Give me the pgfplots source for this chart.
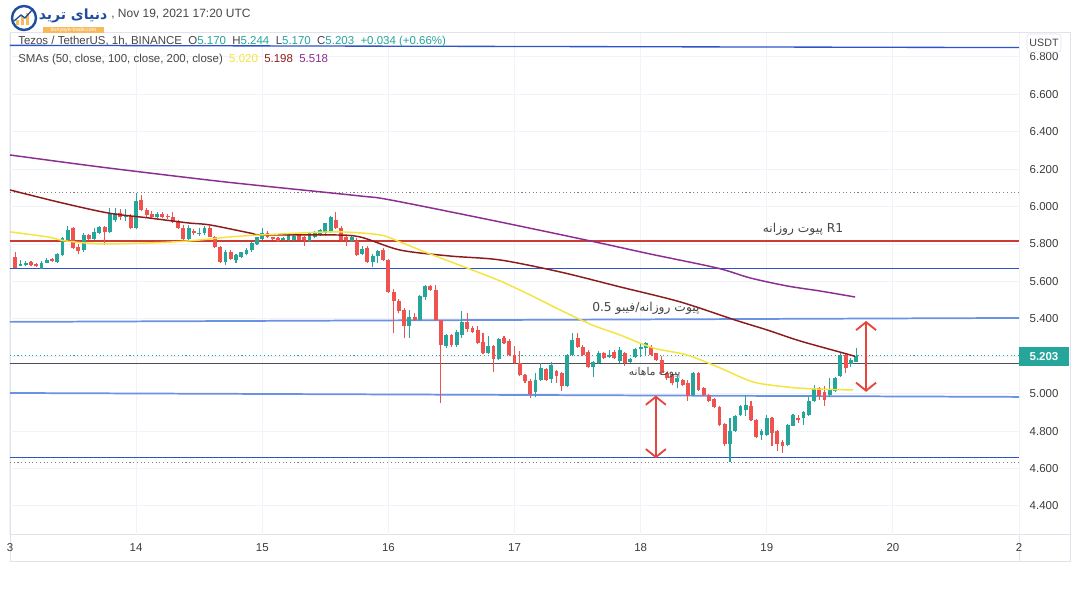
\documentclass[border=0pt]{standalone}
\usepackage{pgfplots}
\usepackage{pgfplotstable}
\pgfplotsset{compat=1.18}
\usepackage{fontspec}
\setmainfont{Liberation Sans}
\newfontfamily\arabicfont[Script=Arabic]{DejaVu Sans}
\TeXXeTstate=1
\usetikzlibrary{arrows.meta}

\definecolor{upc}{RGB}{38,166,154}
\definecolor{downc}{RGB}{239,83,80}
\definecolor{gridc}{RGB}{240,243,250}
\definecolor{bordc}{RGB}{224,227,235}
\definecolor{tickc}{RGB}{60,60,60}
\definecolor{hdrc}{RGB}{70,70,70}
\definecolor{smaY}{RGB}{245,228,60}
\definecolor{smaR}{RGB}{140,28,28}
\definecolor{smaP}{RGB}{140,45,145}
\definecolor{blueA}{RGB}{45,85,200}
\definecolor{blueB}{RGB}{105,145,228}
\definecolor{redL}{RGB}{205,60,50}
\definecolor{darkL}{RGB}{80,80,80}
\definecolor{arrowc}{RGB}{230,70,60}
\definecolor{logoblue}{RGB}{30,78,156}
\definecolor{logoorange}{RGB}{248,185,90}

% t open high low close  (rising candles)
\pgfplotstableread{
t o h l c
2 5.683 5.715 5.680 5.692
3 5.688 5.710 5.680 5.697
6 5.667 5.708 5.664 5.700
7 5.700 5.727 5.698 5.715
9 5.706 5.750 5.700 5.747
10 5.742 5.840 5.735 5.831
11 5.822 5.898 5.815 5.875
14 5.770 5.858 5.760 5.849
16 5.827 5.884 5.820 5.866
17 5.860 5.895 5.855 5.890
19 5.862 5.992 5.860 5.960
20 5.928 5.990 5.920 5.964
22 5.943 5.985 5.925 5.950
24 5.888 6.071 5.880 6.030
28 5.947 5.970 5.940 5.960
34 5.825 5.900 5.822 5.888
36 5.852 5.884 5.845 5.860
37 5.857 5.895 5.850 5.888
41 5.706 5.770 5.688 5.760
43 5.715 5.745 5.700 5.742
44 5.730 5.760 5.725 5.755
45 5.745 5.780 5.740 5.768
46 5.768 5.810 5.760 5.805
47 5.800 5.840 5.795 5.835
48 5.827 5.888 5.820 5.857
52 5.822 5.835 5.815 5.830
53 5.822 5.855 5.815 5.849
54 5.820 5.850 5.815 5.845
57 5.817 5.860 5.810 5.857
58 5.840 5.870 5.830 5.857
59 5.849 5.880 5.845 5.875
60 5.860 5.915 5.845 5.910
61 5.867 5.950 5.860 5.942
65 5.817 5.845 5.810 5.835
67 5.747 5.790 5.740 5.772
69 5.706 5.745 5.675 5.736
70 5.736 5.770 5.700 5.763
76 5.360 5.448 5.298 5.410
78 5.394 5.530 5.390 5.520
79 5.515 5.580 5.500 5.576
83 5.255 5.320 5.245 5.314
85 5.258 5.340 5.250 5.330
86 5.314 5.444 5.300 5.385
91 5.220 5.310 5.210 5.255
93 5.185 5.300 5.180 5.292
100 5.010 5.110 4.980 5.074
101 5.074 5.165 5.070 5.140
103 5.080 5.170 5.060 5.154
106 5.040 5.210 5.035 5.207
107 5.207 5.323 5.200 5.287
111 5.145 5.175 5.090 5.170
112 5.165 5.230 5.160 5.220
114 5.195 5.234 5.190 5.207
116 5.175 5.250 5.164 5.234
118 5.170 5.190 5.165 5.183
119 5.195 5.245 5.190 5.240
120 5.240 5.265 5.195 5.248
121 5.243 5.278 5.207 5.270
127 5.065 5.100 5.030 5.083
130 4.994 5.115 4.990 5.109
137 4.730 4.870 4.637 4.800
138 4.800 4.885 4.795 4.880
139 4.885 4.940 4.880 4.935
140 4.913 4.994 4.880 4.940
143 4.780 4.810 4.753 4.800
144 4.780 4.887 4.775 4.870
148 4.726 4.840 4.720 4.833
149 4.830 4.890 4.825 4.885
151 4.870 4.910 4.833 4.900
152 4.887 4.980 4.880 4.960
153 4.960 5.047 4.955 5.030
156 4.994 5.083 4.985 5.020
157 5.015 5.090 5.010 5.083
158 5.095 5.220 5.090 5.207
160 5.160 5.190 5.145 5.181
161 5.170 5.244 5.170 5.203
}\uptab

% falling candles
\pgfplotstableread{
t o h l c
1 5.733 5.760 5.670 5.674
4 5.705 5.710 5.682 5.688
5 5.692 5.700 5.675 5.680
8 5.720 5.725 5.705 5.710
12 5.884 5.893 5.773 5.777
13 5.785 5.800 5.745 5.765
15 5.849 5.855 5.820 5.827
18 5.890 5.895 5.795 5.862
21 5.964 5.985 5.930 5.943
23 5.950 5.960 5.880 5.888
25 6.036 6.060 5.975 5.982
26 5.982 5.990 5.945 5.956
27 5.960 5.975 5.940 5.947
29 5.960 5.970 5.940 5.942
30 5.952 5.960 5.935 5.942
31 5.942 5.970 5.910 5.919
32 5.919 5.930 5.880 5.888
33 5.888 5.900 5.810 5.825
35 5.870 5.880 5.850 5.857
38 5.888 5.895 5.835 5.840
39 5.840 5.845 5.780 5.785
40 5.785 5.790 5.700 5.706
42 5.760 5.770 5.715 5.720
49 5.857 5.870 5.830 5.835
50 5.838 5.840 5.820 5.825
51 5.830 5.840 5.810 5.817
55 5.849 5.855 5.820 5.822
56 5.835 5.845 5.790 5.820
62 5.929 5.970 5.880 5.885
63 5.885 5.895 5.815 5.822
64 5.840 5.850 5.790 5.822
66 5.817 5.830 5.735 5.742
68 5.777 5.790 5.700 5.706
71 5.770 5.780 5.710 5.715
72 5.715 5.720 5.540 5.545
73 5.546 5.560 5.323 5.493
74 5.493 5.505 5.430 5.440
75 5.450 5.460 5.296 5.362
77 5.410 5.430 5.390 5.394
80 5.574 5.580 5.550 5.556
81 5.556 5.580 5.390 5.394
82 5.394 5.395 4.952 5.261
84 5.314 5.320 5.250 5.258
87 5.385 5.434 5.330 5.345
88 5.350 5.360 5.325 5.332
89 5.340 5.360 5.265 5.273
90 5.279 5.323 5.210 5.220
92 5.255 5.260 5.118 5.185
94 5.297 5.310 5.265 5.273
95 5.280 5.290 5.200 5.207
96 5.207 5.256 5.160 5.163
97 5.166 5.230 5.095 5.100
98 5.100 5.105 5.060 5.070
99 5.070 5.080 4.978 5.000
102 5.130 5.140 5.070 5.074
104 5.120 5.125 5.060 5.095
105 5.110 5.115 5.015 5.040
108 5.297 5.323 5.245 5.252
109 5.252 5.260 5.200 5.207
110 5.225 5.235 5.137 5.145
113 5.220 5.225 5.185 5.190
115 5.225 5.235 5.185 5.190
117 5.220 5.225 5.150 5.165
122 5.252 5.260 5.200 5.207
123 5.215 5.220 5.175 5.180
124 5.181 5.200 5.105 5.110
125 5.110 5.115 5.075 5.083
126 5.100 5.105 5.045 5.055
128 5.074 5.080 5.040 5.047
129 5.060 5.075 4.962 4.990
131 5.109 5.115 5.015 5.020
132 5.030 5.035 4.990 4.994
133 4.994 5.000 4.955 4.962
134 4.970 4.975 4.925 4.930
135 4.930 4.935 4.825 4.833
136 4.840 4.845 4.720 4.730
141 4.935 4.962 4.855 4.860
142 4.860 4.865 4.765 4.770
145 4.870 4.875 4.720 4.790
146 4.800 4.805 4.695 4.730
147 4.740 4.753 4.685 4.720
150 4.870 4.887 4.845 4.860
154 5.030 5.035 4.967 4.986
155 5.010 5.040 4.935 4.967
159 5.207 5.220 5.110 5.138
}\downtab

\pgfplotsset{candle/.style={only marks, mark=*, mark size=0pt,
  mark options={draw=none, fill=none}}}

\begin{document}
\begin{tikzpicture}
\useasboundingbox (0,0) rectangle (809.25pt,448.5pt);
\fill[white] (0,0) rectangle (809.25pt,448.5pt);
\begin{scope}[yshift=448.5pt, x=0.75pt, y=-0.75pt]
  \draw[bordc, line width=0.75pt] (10,33) rectangle (1070,562);
  \draw[bordc, line width=0.75pt] (1019,33) -- (1019,562);
  \draw[bordc, line width=0.75pt] (10,535) -- (1070,535);
\end{scope}

\begin{axis}[
  at={(7.5pt,47.25pt)}, anchor=south west, scale only axis,
  width=756.75pt, height=376.5pt,
  xmin=0, xmax=192, ymin=4.245, ymax=6.928,
  axis line style={draw=none},
  xtick={0,24,48,72,96,120,144,168,192},
  xticklabels={3,14,15,16,17,18,19,20,2},
  ytick={4.4,4.6,4.8,5.0,5.2,5.4,5.6,5.8,6.0,6.2,6.4,6.6,6.8},
  yticklabel pos=right,
  grid=major, major grid style={color=gridc, line width=0.75pt},
  major tick length=0pt,
  tick label style={font=\fontsize{8.6}{10}\selectfont, text=tickc},
  yticklabel style={anchor=west, xshift=4.5pt},
  xticklabel style={yshift=-3pt},
  /pgf/number format/fixed,
  /pgf/number format/fixed zerofill,
  /pgf/number format/precision=3,
  /pgf/number format/assume math mode=true,
  clip mode=individual,
]
% horizontal drawings
\addplot[blueA, line width=1pt] coordinates {(0,6.862) (192,6.850)};
\addplot[gray, dotted, line width=0.8pt] coordinates {(0,6.073) (192,6.073)};
\addplot[redL, line width=1pt] coordinates {(0,5.817) (192,5.817)};
\addplot[blueA, line width=1pt] coordinates {(0,5.671) (192,5.671)};
\addplot[blueB, line width=1.3pt] coordinates {(0,5.384) (192,5.405)};
\addplot[upc, dotted, line width=0.8pt] coordinates {(0,5.203) (192,5.203)};
\addplot[darkL, line width=1pt] coordinates {(0,5.163) (192,5.163)};
\addplot[blueB, line width=1.3pt] coordinates {(0,5.004) (192,4.983)};
\addplot[blueA, line width=1pt] coordinates {(0,4.659) (192,4.659)};
\addplot[gray, dotted, line width=0.8pt] coordinates {(0,4.632) (192,4.632)};

% wicks
\addplot[candle, error bars/.cd, y dir=plus, y explicit, error mark=none,
  error bar style={line width=0.8pt, color=upc}]
  table[x=t, y=l, y error expr=\thisrow{h}-\thisrow{l}] {\uptab};
\addplot[candle, error bars/.cd, y dir=plus, y explicit, error mark=none,
  error bar style={line width=0.8pt, color=downc}]
  table[x=t, y=l, y error expr=\thisrow{h}-\thisrow{l}] {\downtab};
% bodies
\addplot[candle, error bars/.cd, y dir=plus, y explicit, error mark=none,
  error bar style={line width=2.9pt, color=upc}]
  table[x=t, y=o, y error expr={max(\thisrow{c}-\thisrow{o},0.004)}] {\uptab};
\addplot[candle, error bars/.cd, y dir=plus, y explicit, error mark=none,
  error bar style={line width=2.9pt, color=downc}]
  table[x=t, y=c, y error expr={max(\thisrow{o}-\thisrow{c},0.004)}] {\downtab};

% SMA 200
\addplot[smaP, line width=1.1pt, smooth] coordinates {
(0,6.276) (17.13,6.212) (37.49,6.143) (47.95,6.111) (66.60,6.057) (72.31,6.036)
(91.34,5.929) (110.37,5.817) (121.79,5.747) (134.54,5.672) (140.82,5.619)
(147.86,5.576) (154.14,5.549) (160.80,5.517)};
% SMA 100
\addplot[smaR, line width=1.1pt, smooth] coordinates {
(0,6.089) (9.13,6.025) (18.65,5.966) (26.26,5.940) (33.87,5.913) (38.06,5.902)
(45.67,5.859) (47.95,5.849) (60.89,5.849) (66.60,5.838) (74.21,5.768) (83.73,5.736)
(93.24,5.715) (104.66,5.651) (116.08,5.571) (127.50,5.491) (137.96,5.394)
(144.05,5.341) (150.33,5.282) (158.52,5.218) (160.80,5.200)};
% SMA 50
\addplot[smaY, line width=1.1pt, smooth] coordinates {
(0,5.865) (7.23,5.838) (10.47,5.817) (17.13,5.801) (26.64,5.806) (34.25,5.817)
(41.87,5.838) (47.95,5.849) (55.19,5.859) (62.80,5.865) (70.41,5.849) (74.21,5.811)
(79.92,5.747) (86.96,5.672) (93.24,5.603) (98.95,5.528) (104.66,5.448) (110.75,5.368)
(116.08,5.314) (122.36,5.245) (128.83,5.207) (135.11,5.138) (141.39,5.063)
(147.86,5.036) (152.81,5.026) (160.42,5.020)};

% annotations
\node[font=\arabicfont\fontsize{9.2}{10}\selectfont, text=hdrc] at (axis cs:150.9,5.881) {\beginR R1 پیوت روزانه\endR};
\node[font=\arabicfont\fontsize{9.2}{10}\selectfont, text=hdrc] at (axis cs:121,5.458) {\beginR پیوت روزانه/فیبو 0.5\endR};
\node[font=\arabicfont\fontsize{8}{9}\selectfont, text=hdrc] at (axis cs:122.7,5.111) {\beginR پیوت ماهانه\endR};
\draw[arrowc, line width=1.4pt, {Straight Barb[length=6pt,width=15pt]}-{Straight Barb[length=6pt,width=15pt]}]
  (axis cs:122.9,4.99) -- (axis cs:122.9,4.655);
\draw[arrowc, line width=1.4pt, {Straight Barb[length=6pt,width=15pt]}-{Straight Barb[length=6pt,width=15pt]}]
  (axis cs:162.9,5.389) -- (axis cs:162.9,5.010);
\end{axis}

\begin{scope}[yshift=448.5pt, x=0.75pt, y=-0.75pt]
  % logo
  \fill[white] (24,18) circle (13);
  \draw[logoblue, line width=1.8pt] (24,18) circle (12);
  \fill[logoorange] (16,25) rectangle (19,20);
  \fill[logoorange] (21,25) rectangle (24,16);
  \fill[logoorange] (26,25) rectangle (29,13);
  \draw[logoblue, line width=1pt] (14,21) -- (21,15) -- (25,18) -- (33,9);
  \node[text=logoblue, font=\arabicfont\bfseries\fontsize{10.5}{11}\selectfont, inner sep=0pt] at (73,16) {\beginR دنیای ترید\endR};
  \fill[logoorange] (43,27) rectangle (104,33);
  \node[text=white, font=\fontsize{4}{4}\selectfont] at (73.5,30) {donyaye-trade.com};
  \node[anchor=west, text=hdrc, font=\fontsize{9}{10}\selectfont, inner sep=0pt] at (111,14) {, Nov 19, 2021 17:20 UTC};
  % legend lines
  \node[anchor=west, text=hdrc, font=\fontsize{8.6}{10}\selectfont, inner sep=0pt] at (18,42)
    {Tezos / TetherUS, 1h, BINANCE\ \ O\textcolor{upc}{5.170}\ \ H\textcolor{upc}{5.244}\ \ L\textcolor{upc}{5.170}\ \ C\textcolor{upc}{5.203}\ \ \textcolor{upc}{+0.034 (+0.66\%)}};
  \node[anchor=west, text=hdrc, font=\fontsize{8.6}{10}\selectfont, inner sep=0pt] at (18,60)
    {SMAs (50, close, 100, close, 200, close)\ \ \textcolor{smaY}{5.020}\ \ \textcolor{smaR}{5.198}\ \ \textcolor{smaP}{5.518}};
  % price scale extras
  \draw[bordc, fill=white, rounded corners=2pt] (1027,34) rectangle (1061,52);
  \node[text=hdrc, font=\fontsize{8}{9}\selectfont] at (1044,43) {USDT};
  \fill[upc] (1019,347) rectangle (1069,366);
  \node[text=white, font=\bfseries\fontsize{8.6}{9}\selectfont] at (1044,356.5) {5.203};
\end{scope}
\end{tikzpicture}
\end{document}
